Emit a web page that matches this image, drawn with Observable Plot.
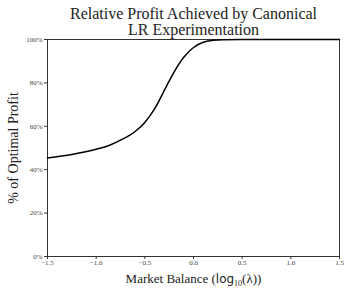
<!DOCTYPE html>
<html>
<head>
<meta charset="utf-8">
<script src="https://cdn.jsdelivr.net/npm/d3@7"></script>
<script src="https://cdn.jsdelivr.net/npm/@observablehq/plot@0.6"></script>
<style>
  html, body { margin: 0; padding: 0; background: #fff; }
  svg { display: block; }
</style>
</head>
<body>
<div id="chart"></div>
<script>
// Data
const marketBalance = [-1.5, -1.25, -1.0, -0.85, -0.75, -0.6, -0.5, -0.4, -0.3, -0.2, -0.1, 0.0, 0.1, 0.2, 0.3, 0.5, 1.0, 1.5];
const pctOptimal    = [45.4, 47.0, 49.4, 51.5, 53.6, 57.6, 61.8, 68.0, 76.5, 85.0, 91.8, 96.3, 98.7, 99.6, 99.9, 100, 100, 100];
const xTicks = [-1.5, -1.0, -0.5, 0.0, 0.5, 1.0, 1.5];
const yTicks = [0, 20, 40, 60, 80, 100];
const titleLines = ["Relative Profit Achieved by Canonical", "LR Experimentation"];
const xLabel = "Market Balance (log₁₀(λ))";
const yLabel = "% of Optimal Profit";

const data = marketBalance.map((x, i) => ({x, y: pctOptimal[i]}));
const serif = "'Liberation Serif', 'DejaVu Serif', serif";

const chart = Plot.plot({
  width: 349,
  height: 290,
  marginLeft: 47,
  marginRight: 10,
  marginTop: 39,
  marginBottom: 34,
  style: {fontFamily: serif, fontSize: "7px", color: "#222", background: "#fff"},
  x: {domain: [-1.5, 1.5], label: null},
  y: {domain: [0, 100], label: null},
  marks: [
    Plot.frame({stroke: "#333", strokeWidth: 1}),
    Plot.axisX({ticks: xTicks, tickFormat: d3.format(".1f"), tickSize: 3, tickPadding: 1, label: null, stroke: "#333", fill: "#444"}),
    Plot.axisY({ticks: yTicks, tickFormat: d => d + "%", tickSize: 3, tickPadding: 2, label: null, stroke: "#333", fill: "#444"}),
    Plot.line(data, {x: "x", y: "y", curve: "monotone-x", stroke: "#000", strokeWidth: 1.5}),
    Plot.text([titleLines[0]], {frameAnchor: "top", lineAnchor: "middle", dy: -26, fontSize: 16, fill: "#222", fontFamily: serif}),
    Plot.text([titleLines[1]], {frameAnchor: "top", lineAnchor: "middle", dy: -10, fontSize: 16, fill: "#222", fontFamily: serif}),
    Plot.text([xLabel], {frameAnchor: "bottom", lineAnchor: "middle", dy: 22, fontSize: 13, fill: "#222", fontFamily: serif, className: "xlab"}),
    Plot.text([yLabel], {frameAnchor: "left", textAnchor: "middle", lineAnchor: "middle", dx: -34, rotate: -90, fontSize: 14, fill: "#222", fontFamily: serif})
  ]
});
document.getElementById("chart").appendChild(chart);

// Rich formatting of x label: sans-serif "log" with subscript 10
const xl = d3.select(chart).select("g.xlab text");
if (!xl.empty()) {
  xl.text(null);
  xl.append("tspan").text("Market Balance (");
  xl.append("tspan").attr("font-family", "'DejaVu Sans', sans-serif").attr("font-size", 12).text("log");
  xl.append("tspan").attr("font-size", 8).attr("dy", 3).text("10");
  xl.append("tspan").attr("dy", -3).text("(λ))");
}
</script>
</body>
</html>
